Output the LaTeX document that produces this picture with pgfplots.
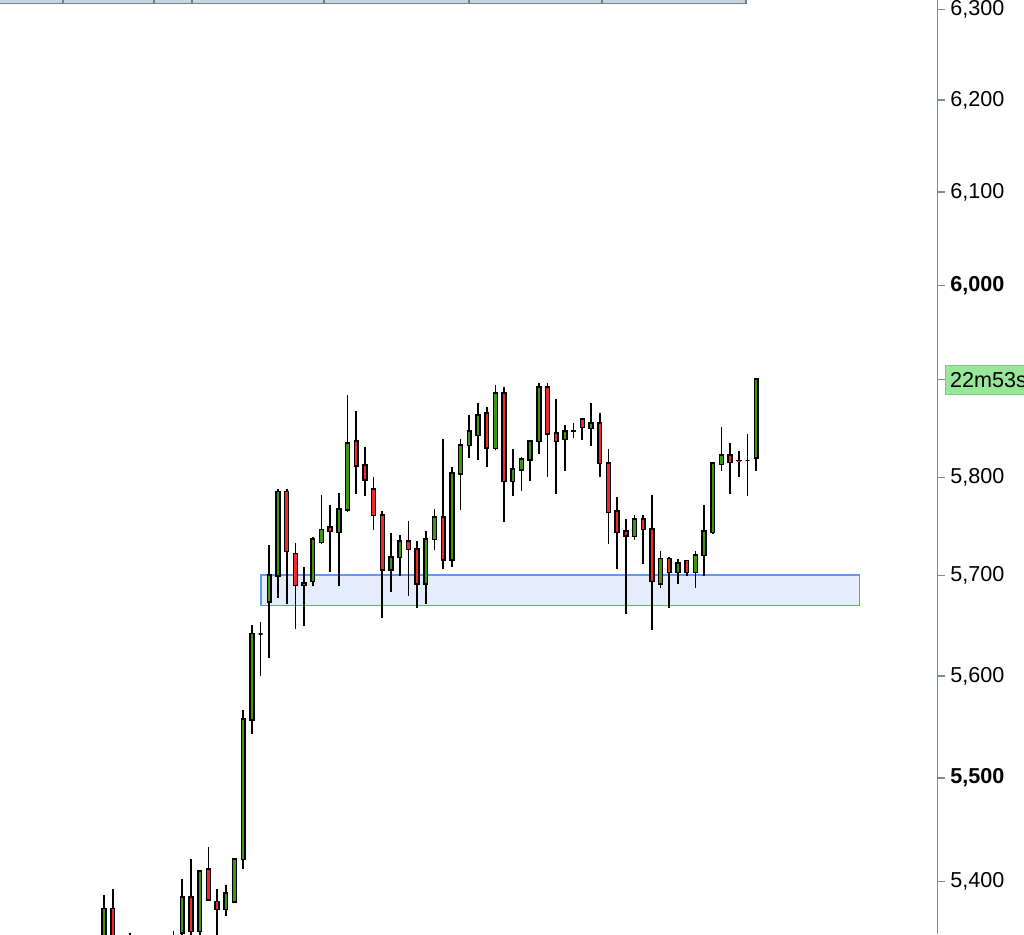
\documentclass[border=0pt]{standalone}
\usepackage{fontspec}
\setmainfont{Liberation Sans}
\usepackage{pgfplots}
\usepackage{pgfplotstable}
\pgfplotsset{compat=1.18}
\definecolor{cgreen}{RGB}{60,152,20}
\definecolor{cred}{RGB}{238,42,42}
\definecolor{axisgray}{RGB}{122,139,153}
\definecolor{zonefill}{RGB}{229,236,252}
\definecolor{zoneedge}{RGB}{100,150,245}
\definecolor{lblfill}{RGB}{152,230,152}
\definecolor{lbledge}{RGB}{122,205,122}
\definecolor{barfill}{RGB}{201,213,222}
\definecolor{baredge}{RGB}{111,131,145}

\pgfplotstableread{
i o h l c
0 5340 5387 5330 5374
1 5374 5393 5325 5335
2 5330 5338 5305 5318
3 5320 5351.5 5300 5340
4 5340 5346 5300 5310
5 5310 5330 5290 5300
6 5300 5325 5285 5315
7 5315 5340 5300 5330
8 5330 5353 5320 5345
9 5351 5402.4 5342 5385.1
10 5385 5421.7 5345 5352
11 5352 5410 5346 5409.6
12 5411.8 5433.2 5382 5382.5
13 5380.9 5393 5340 5373
14 5373 5396.7 5367.4 5388.8
15 5380.6 5421.5 5380 5421.4
16 5420.8 5565.5 5412.3 5557.3
17 5556.5 5650.7 5542.2 5642.1
18 5641.3 5653.7 5599.8 5641.3
19 5673.7 5731.2 5617 5700.7
20 5699.7 5788.1 5677.4 5785.4
21 5785.4 5788.1 5671 5724.1
22 5722.4 5732.9 5646.5 5689.7
23 5692.4 5708.5 5649 5689.7
24 5693.7 5739 5689 5737
25 5733.5 5781.7 5731.5 5746.7
26 5749.2 5771.5 5703 5744.4
27 5743.7 5783.7 5689 5767.5
28 5766.8 5885.1 5764 5835.2
29 5837.2 5868.3 5782.3 5811.7
30 5812.4 5831 5780.3 5797.3
31 5787.8 5800 5745.7 5760.7
32 5761.4 5765.4 5657 5705.8
33 5705.8 5743.1 5683 5718.7
34 5718 5741 5699 5735
35 5735 5755.3 5679 5726.1
36 5726.9 5735 5667 5691.7
37 5691.7 5745 5671 5737
38 5736.3 5767.5 5725.4 5759.3
39 5759.3 5839.3 5707.1 5716
40 5716 5810.3 5709.1 5804.1
41 5803.4 5839.3 5766 5833.1
42 5832.4 5864.1 5819.3 5847.6
43 5842.7 5876.5 5817.3 5864.1
44 5866.2 5872.4 5811 5830.3
45 5829.6 5895.1 5827.5 5886.9
46 5886.9 5893.1 5753.9 5795.2
47 5795.2 5829 5780.3 5808.3
48 5807.5 5820.7 5786.4 5818.6
49 5817.9 5837.2 5796.6 5837.2
50 5836.5 5897.2 5823.4 5893.1
51 5893.1 5897.2 5800.6 5844.8
52 5845.5 5880.7 5782.3 5836.5
53 5838.6 5853.8 5806.8 5847.6
54 5847.8 5855.8 5839.9 5848
55 5860 5860 5838.8 5851
56 5850.3 5876.5 5831.7 5855.8
57 5855.8 5866.2 5800.7 5813.8
58 5814.5 5829 5731.5 5764
59 5765.4 5779.7 5707.1 5743.7
60 5745 5757.3 5661 5740.3
61 5739.6 5761.4 5735.6 5757.3
62 5757.3 5761.4 5711.2 5746.7
63 5747.2 5781.7 5645.1 5693.7
64 5691.7 5725.1 5687 5717
65 5717 5719 5667 5703.4
66 5703.4 5717 5691 5712.9
67 5715 5715 5699 5703.4
68 5703.4 5725.1 5687 5721
69 5720.3 5771.5 5699 5745
70 5743.7 5814.5 5741.7 5814.5
71 5813.1 5851.7 5806.8 5822.8
72 5822.8 5835.2 5782.3 5815.1
73 5817.2 5826.9 5800.6 5817
74 5817.2 5844.8 5781 5817.2
75 5819.3 5901.4 5806.8 5901.4
}\candles

\begin{document}
\begin{tikzpicture}
\useasboundingbox (0,0) rectangle (1024pt,934pt);
\clip (0,0) rectangle (1024pt,934pt);
\begin{axis}[
  at={(0pt,0pt)}, anchor=south west,
  scale only axis, width=937.3pt, height=934pt,
  xmin=-11.964, xmax=95.82,
  y coord trafo/.code={\pgfmathparse{1000*ln(#1/6000)}},
  y coord inv trafo/.code={\pgfmathparse{6000*exp(#1/1000)}},
  ymin=5350.1, ymax=6310.7,
  axis x line=none,
  axis y line*=right,
  axis line style={draw=axisgray, line width=1.4pt, -},
  ytick={5400,5500,5600,5700,5800,5901.4,6000,6100,6200,6300},
  yticklabels={{5,400},{\textbf{5,500}},{5,600},{5,700},{5,800},{},{\textbf{6,000}},{6,100},{6,200},{6,300}},
  yminorticks=false,
  tick align=outside, major tick length=7.4pt,
  tick style={draw=axisgray, line width=1.4pt},
  yticklabel style={anchor=west, inner sep=0pt, xshift=5.5pt, font=\fontsize{21.6}{25}\selectfont},
  clip=true,
  wick/.style={black, line width=1.7pt},
  body/.style={draw=black, line width=1.5pt, line join=miter},
]
\fill[zonefill, draw=zoneedge, line width=1.8pt] (axis cs:18.04,5670.2) rectangle (axis cs:86.87,5701.6);
\pgfplotsinvokeforeach{0,...,75}{
  \pgfplotstablegetelem{#1}{i}\of\candles \let\cx\pgfplotsretval
  \pgfplotstablegetelem{#1}{o}\of\candles \let\co\pgfplotsretval
  \pgfplotstablegetelem{#1}{h}\of\candles \let\ch\pgfplotsretval
  \pgfplotstablegetelem{#1}{l}\of\candles \let\cl\pgfplotsretval
  \pgfplotstablegetelem{#1}{c}\of\candles \let\cc\pgfplotsretval
  \pgfmathsetmacro\xa{\cx-0.222}
  \pgfmathsetmacro\xb{\cx+0.222}
  \pgfmathtruncatemacro\up{(\cc>=\co)}
  \ifnum\up=1 \def\fc{cgreen}\else\def\fc{cred}\fi
  \edef\tmp{\noexpand\addplot[wick] coordinates {(\cx,\cl) (\cx,\ch)};
    \noexpand\addplot[body, fill=\fc] coordinates {(\xa,\co) (\xb,\co) (\xb,\cc) (\xa,\cc)} -- cycle;}
  \tmp
}
\coordinate (cp) at (axis cs:95.82,5901.4);
\end{axis}
\node[anchor=west, fill=lblfill, draw=lbledge, line width=1pt, minimum height=29pt, inner xsep=4.5pt, inner ysep=0pt, outer sep=0pt, font=\fontsize{21.6}{25}\selectfont] at ([xshift=8.2pt]cp) {22m53s};
\fill[barfill] (0,930pt) rectangle (746pt,934pt);
\draw[baredge, line width=1.5pt] (0,930.5pt) -- (746pt,930.5pt) -- (746pt,934pt);
\foreach \dx in {63,154,192,324,469,602} {\draw[baredge, line width=1.2pt] (\dx pt,930.5pt) -- (\dx pt,934pt);}
\end{tikzpicture}
\end{document}
